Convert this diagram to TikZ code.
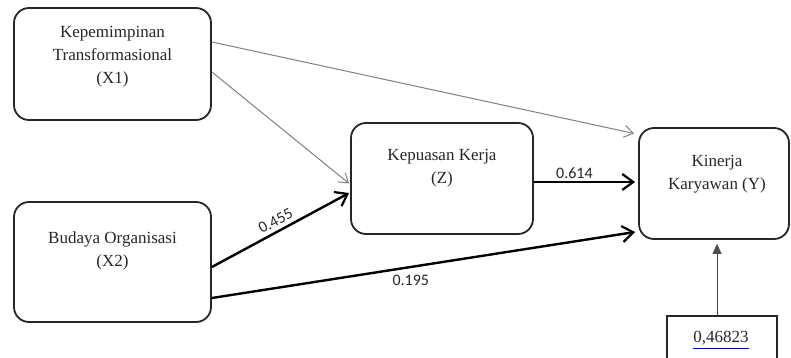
\documentclass[tikz,border=0pt]{standalone}
\usepackage{fontspec}
\setmainfont{Liberation Serif}
\newfontfamily\numfont{Carlito}
\usetikzlibrary{arrows.meta}
\tikzset{
  box/.style={draw=black!85, line width=1.8pt, rounded corners=15pt, inner sep=0pt},
  txt/.style={align=center, text=black!85, font=\fontsize{17}{23}\selectfont, inner sep=0pt},
  thinarr/.style={draw=black!50, line width=1pt, -{Straight Barb[length=9pt,width=12pt]}},
  thickarr/.style={draw=black, line width=2.4pt, -{Straight Barb[length=11pt,width=16pt,line width=2.2pt]}},
  lbl/.style={text=black!85, font=\numfont\fontsize{16}{18}\selectfont, inner sep=1pt},
}
\begin{document}
\begin{tikzpicture}[x=1pt,y=-1pt]
\useasboundingbox (0,0) rectangle (791,358);
\clip (0,0) rectangle (791,358);
% boxes
\node[box, minimum width=197pt, minimum height=112pt] (x1) at (112.5,64) {};
\node[box, minimum width=197pt, minimum height=120pt] (x2) at (112.5,262) {};
\node[box, minimum width=182pt, minimum height=111pt] (z) at (442,178.5) {};
\node[box, minimum width=150pt, minimum height=111pt] (y) at (714,183.5) {};
\node[draw=black!85, line width=1.8pt, minimum width=110pt, minimum height=54pt, inner sep=0pt] (r) at (722,343) {};
% texts
\node[txt] (x1t) at (112.5,57) {Kepemimpinan\\Transformasional\\(X1)};
\node[txt] (x2t) at (112.5,251) {Budaya Organisasi\\(X2)};
\node[txt] (zt) at (442,168.5) {Kepuasan Kerja\\(Z)};
\node[txt] (yt) at (717,174.5) {Kinerja\\Karyawan (Y)};
\node[txt] (rt) at (721,338) {0,46823};
\draw[blue!70!black, line width=0.8pt] ([yshift=-3pt]rt.south west) -- ([yshift=-3pt]rt.south east);
% connectors
\draw[thinarr] ([yshift=22pt]x1.east) -- ([xshift=-4pt,yshift=50pt]y.west);
\draw[thinarr] ([yshift=-8pt]x1.east) -- ([xshift=-1pt,yshift=-5pt]z.west);
\draw[thickarr] ([yshift=-5pt]x2.east) -- node[lbl, pos=0.5, above=3pt, sloped] (l1) {0.455} ([xshift=-1pt,yshift=-14.5pt]z.west);
\draw[thickarr] ([yshift=-36pt]x2.east) -- node[lbl, pos=0.47, below=6pt] (l2) {0.195} ([xshift=-3pt,yshift=-48.5pt]y.west);
\draw[thickarr] ([yshift=-3.5pt]z.east) -- node[lbl, pos=0.4, above=1pt] (l3) {0.614} ([xshift=-3pt,yshift=1.5pt]y.west);
\draw[draw=black!70, line width=1pt, -{Triangle[length=10pt,width=9pt]}] ([xshift=-5pt]r.north) -- ([xshift=3pt,yshift=-4pt]y.south);
\end{tikzpicture}
\end{document}
